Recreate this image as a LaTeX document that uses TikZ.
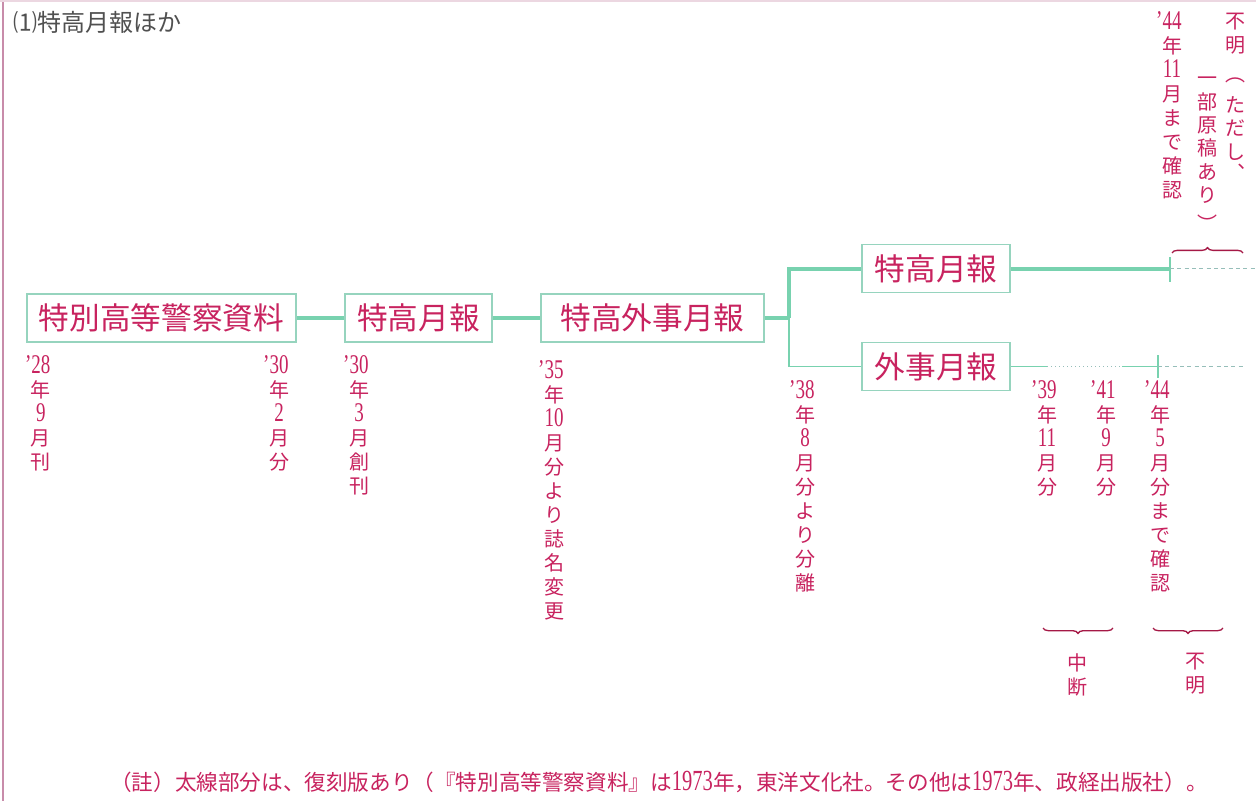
\documentclass[tikz,border=0pt]{standalone}
\usepackage{fontspec}
\setmainfont{Noto Sans CJK JP}
\newfontfamily\numfont{Liberation Serif}
\usetikzlibrary{decorations.pathreplacing}
\definecolor{mag}{RGB}{200,35,95}
\definecolor{brc}{RGB}{165,25,70}
\definecolor{grn}{RGB}{120,210,175}
\definecolor{boxg}{RGB}{150,212,190}
\definecolor{dsh}{RGB}{150,190,185}
\definecolor{framec}{RGB}{200,140,170}
\definecolor{ttl}{RGB}{80,80,80}
\newcommand\nm[1]{\scalebox{0.95}[1.35]{\numfont #1}}
\newcommand\ap{\llap{\numfont ’}}
\begin{document}
\begin{tikzpicture}[x=0.75pt,y=-0.75pt,
  pbox/.style={draw=boxg, line width=1.2pt, inner sep=0, minimum height=36pt, text=mag, font=\fontsize{23}{23}\selectfont},
  vlab/.style={anchor=north, align=center, inner sep=0, text=mag, font=\fontsize{15}{18}\selectfont},
  ch/.style={inner sep=0, text=mag, font=\fontsize{15}{18}\selectfont},
  thickl/.style={draw=grn, line width=3pt},
  thinl/.style={draw=grn, line width=1.4pt},
  tickl/.style={draw=grn, line width=1.2pt},
  dashl/.style={draw=dsh, line width=0.8pt, dash pattern=on 3pt off 2.5pt},
  dotl/.style={draw=dsh, line width=1pt, dash pattern=on 1pt off 2pt},
  brl/.style={draw=brc, line width=1pt, decorate, decoration={brace, amplitude=4pt}},
]
\fill[white] (0,0) rectangle (1256,801);
\useasboundingbox (0,0) rectangle (1256,801);
\draw[framec, line width=2.2pt] (3,0) -- (3,801);
\draw[framec!35, line width=1pt] (0,1) -- (1256,1);

% title
\node[anchor=west, text=ttl, font=\fontsize{18}{18}\selectfont, inner sep=0] (title) at (13,22) {⑴特高月報ほか};

% boxes
\node[pbox, minimum width=201.75pt] (b1) at (161.5,318) {特別高等警察資料};
\node[pbox, minimum width=110pt] (b2) at (418.5,318) {特高月報};
\node[pbox, minimum width=167pt] (b3) at (652.5,318) {特高外事月報};
\node[pbox, minimum width=111pt] (b4) at (936,268.5) {特高月報};
\node[pbox, minimum width=111pt] (b5) at (936,366.5) {外事月報};

% connectors
\coordinate (br) at (789,318);
\draw[thickl] (b1.east) -- (b2.west);
\draw[thickl] (b2.east) -- (b3.west);
\draw[thickl] (b3.east) -- (br);
\draw[thickl] (br) |- (b4.west);
\draw[thinl] (br) |- (b5.west);

\coordinate (u1) at (1170,268.5);
\coordinate (u2) at (1255,268.5);
\coordinate (ut1) at (1170,257);
\coordinate (ut2) at (1170,282);
\draw[thickl] (b4.east) -- (u1);
\draw[tickl] (ut1) -- (ut2);
\draw[dashl] (u1) -- (u2);

\coordinate (l1) at (1047,366.5);
\coordinate (l2) at (1122,366.5);
\coordinate (l3) at (1158,366.5);
\coordinate (l4) at (1243,366.5);
\coordinate (lt1) at (1158,355);
\coordinate (lt2) at (1158,378);
\draw[thinl] (b5.east) -- (l1);
\draw[dotl] (l1) -- (l2);
\draw[thinl] (l2) -- (l3);
\draw[tickl] (lt1) -- (lt2);
\draw[dashl] (l3) -- (l4);

% braces
\coordinate (ba1) at (1172,253);
\coordinate (ba2) at (1243,253);
\draw[brl] (ba1) -- (ba2);
\coordinate (bb1) at (1113,628);
\coordinate (bb2) at (1043,628);
\draw[brl] (bb1) -- (bb2);
\coordinate (bc1) at (1223,628);
\coordinate (bc2) at (1153,628);
\draw[brl] (bc1) -- (bc2);

% vertical labels
\node[vlab] (d28) at (41,355) {\nm{\ap28}\\年\\\nm{9}\\月\\刊};
\node[vlab] (d30a) at (279,355) {\nm{\ap30}\\年\\\nm{2}\\月\\分};
\node[vlab] (d30b) at (359,355) {\nm{\ap30}\\年\\\nm{3}\\月\\創\\刊};
\node[vlab] (d35) at (554,360) {\nm{\ap35}\\年\\\nm{10}\\月\\分\\よ\\り\\誌\\名\\変\\更};
\node[vlab] (d38) at (805,380) {\nm{\ap38}\\年\\\nm{8}\\月\\分\\よ\\り\\分\\離};
\node[vlab] (d39) at (1047,380) {\nm{\ap39}\\年\\\nm{11}\\月\\分};
\node[vlab] (d41) at (1106,380) {\nm{\ap41}\\年\\\nm{9}\\月\\分};
\node[vlab] (d44) at (1160,380) {\nm{\ap44}\\年\\\nm{5}\\月\\分\\ま\\で\\確\\認};
\node[vlab] (d44b) at (1172,11) {\nm{\ap44}\\年\\\nm{11}\\月\\ま\\で\\確\\認};

% 不明（ただし、一部原稿あり）
\node[ch] (r1) at (1235,22) {不};
\node[ch] (r2) at (1235,45) {明};
\node[ch] (r3) at (1235,80) {︵};
\node[ch] (r4) at (1235,105) {た};
\node[ch] (r5) at (1235,128) {だ};
\node[ch] (r6) at (1235,152) {し};
\node[ch] (r7) at (1235,172) {︑};
\node[ch] (k1) at (1207,81) {一};
\node[ch] (k2) at (1207,102) {部};
\node[ch] (k3) at (1207,125) {原};
\node[ch] (k4) at (1207,148) {稿};
\node[ch] (k5) at (1207,172) {あ};
\node[ch] (k6) at (1207,195) {り};
\node[ch] (k7) at (1207,223) {︶};

% bottom notes
\node[vlab] (chudan) at (1077,653) {中\\断};
\node[vlab] (fumei) at (1195,653) {不\\明};

% footnote
\node[text=mag, font=\fontsize{16.2}{16.2}\selectfont, inner sep=0] (note) at (659,782) {（註）太線部分は、復刻版あり（『特別高等警察資料』は\nm{1973}年，東洋文化社。その他は\nm{1973}年、政経出版社）。};
\end{tikzpicture}
\end{document}
